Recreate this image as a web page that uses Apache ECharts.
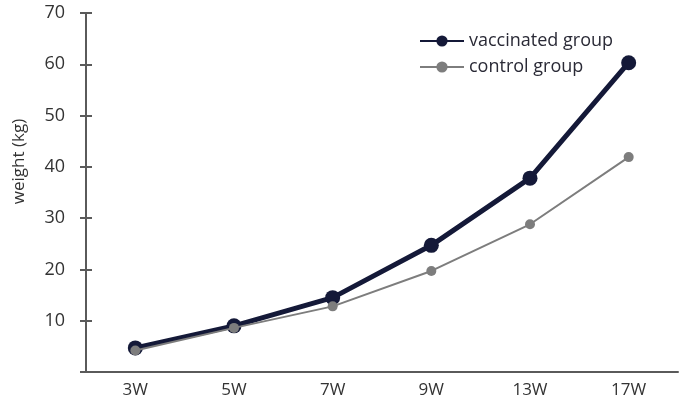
<!DOCTYPE html>
<html>
<head>
<meta charset="utf-8">
<script src="https://cdn.jsdelivr.net/npm/echarts@6/dist/echarts.min.js"></script>
<style>
  html, body { margin: 0; padding: 0; background: #fff; }
  #chart { width: 680px; height: 406px; }
</style>
</head>
<body>
<div id="chart"></div>
<script>
const weeks = ["3W", "5W", "7W", "9W", "13W", "17W"];
const vaccinated = [4.7, 9.0, 14.5, 24.7, 37.8, 60.3];
const control = [4.2, 8.6, 12.8, 19.7, 28.8, 41.9];

const axisColor = "#5a5a5a";
const textColor = "#333";
const font = "Open Sans";

const chart = echarts.init(document.getElementById("chart"));

chart.setOption({
    animation: false,
    textStyle: {fontFamily: font},
    grid: {left: 86, right: 2, top: 13, bottom: 34},
    legend: {
        orient: "vertical",
        left: 414,
        top: 27,
        itemWidth: 44,
        itemHeight: 14,
        itemGap: 8,
        textStyle: {fontSize: 18, color: "#2a2a36", fontFamily: font},
        data: ["vaccinated group", "control group"],
    },
    xAxis: {
        type: "category",
        data: weeks,
        boundaryGap: true,
        axisLine: {lineStyle: {color: axisColor, width: 2}},
        axisTick: {length: 6, lineStyle: {color: axisColor, width: 2}},
        axisLabel: {fontSize: 17, color: textColor, margin: 10},
    },
    yAxis: [
        {
            type: "value",
            min: 0,
            max: 70,
            interval: 10,
            name: "weight (kg)",
            nameLocation: "middle",
            nameGap: 58,
            nameTextStyle: {fontSize: 17, color: textColor, padding: [0, 0, 0, 62]},
            axisLine: {show: true, lineStyle: {color: axisColor, width: 2}},
            axisTick: {show: true, length: 6, lineStyle: {color: axisColor, width: 2}},
            axisLabel: {
                fontSize: 18,
                color: textColor,
                margin: 21,
                formatter: (v) => (v === 0 ? "" : v),
            },
            splitLine: {show: false},
        },
        {
            type: "value",
            min: 0,
            max: 70,
            interval: 10,
            position: "left",
            offset: 0,
            axisLine: {show: true, lineStyle: {opacity: 0}},
            axisTick: {show: true, inside: true, length: 6, lineStyle: {color: axisColor, width: 2}},
            axisLabel: {show: false},
            splitLine: {show: false},
        },
    ],
    series: [
        {
            name: "control group",
            type: "line",
            data: control,
            symbol: "circle",
            symbolSize: 10,
            lineStyle: {color: "#7d7d7d", width: 2},
            itemStyle: {color: "#7d7d7d"},
            z: 3,
        },
        {
            name: "vaccinated group",
            type: "line",
            data: vaccinated,
            symbol: "circle",
            symbolSize: 15,
            lineStyle: {color: "#141938", width: 5},
            itemStyle: {color: "#141938"},
            z: 2,
        },
    ],
});
</script>
</body>
</html>
